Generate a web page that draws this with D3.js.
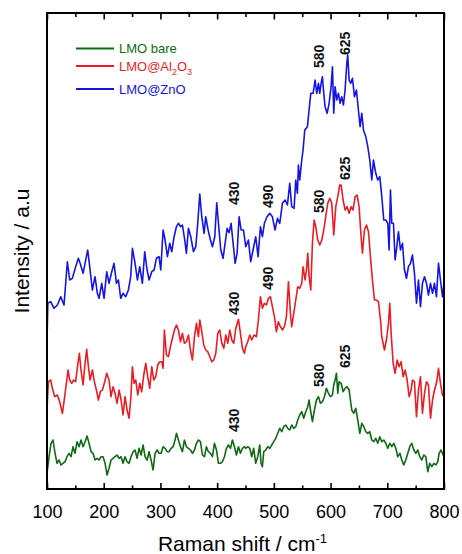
<!DOCTYPE html>
<html>
<head>
<meta charset="utf-8">
<script src="https://cdn.jsdelivr.net/npm/d3@7/dist/d3.min.js"></script>
<style>
  html, body { margin: 0; padding: 0; background: #fff; }
  svg { display: block; font-family: Arial, "Liberation Sans", sans-serif; }
</style>
</head>
<body>
<svg id="chart" width="462" height="554"></svg>
<script>
// Raman spectra: [Raman shift (cm^-1), intensity (a.u., stacked with offsets)]
const lmoZnO = [
  [100,148],[101.5,186],[106.5,187.3],[112.4,180.7],[118.3,184],[124.2,192.3],[130,184],[135.9,227.3],
  [140,209],[144.7,210.7],[150.6,222.3],[155.3,230.7],[159.4,224],[163.6,215.7],[167.1,225.7],[171.8,239],
  [175.3,222.3],[180,199],[184.7,212.3],[188.8,195.7],[191.8,190.7],[196.5,205.7],[200.6,190.7],[205.3,217.3],
  [209.4,205.7],[213.5,215.7],[218.2,225.7],[222.4,205.7],[225.9,209],[230,190.7],[234.1,195.7],[238.8,192.3],
  [243.5,199],[247.6,212.3],[250.6,240.7],[255.3,225.7],[259.4,209],[263.5,222.3],[268.2,205.7],[272.3,237.3],
  [276.5,219],[280,209],[284.7,217.3],[288.8,219],[292.9,230.7],[297.6,232.3],[300.6,219],[304.7,259],
  [308.2,249],[312.3,232.3],[316.4,245.7],[320,237.3],[324.1,252.3],[328.2,262.3],[331.7,265.7],[335.8,262.3],
  [338.8,264],[342.9,249],[345.8,235.7],[349.4,260.7],[353.5,252.3],[358.2,237.3],[362.3,242.3],[365.8,265.7],
  [369.4,295],[372.9,272.3],[377,255.7],[379.9,272.3],[384.1,259],[388.2,249],[391.7,242.3],[395.8,252.3],
  [399.3,286.3],[402.3,265.7],[406.4,239],[410.5,230.7],[414,245.7],[417.6,260.7],[421.1,256.3],[424.6,265.7],
  [428.2,245.7],[431.7,225.7],[435.2,235.7],[438.7,272.3],[442.3,259],[446.4,259],[450.5,242.3],[455.1,249],
  [459.2,227.3],[463.3,239],[468,252.3],[472.2,232.3],[476.3,262.3],[479.8,252.3],[483.3,265.7],[488,272.3],
  [492.7,275.7],[497.4,272.3],[502.1,259],[506.3,270.7],[510.4,265.7],[515.1,285.7],[519.8,289],[523.9,284],
  [528,305.7],[531.5,282.3],[535.7,280.7],[538.6,309],[541.5,295.7],[543.3,324],[545.7,309],[549.2,329],
  [551.5,339],[554.5,359],[559.2,362.3],[562.1,379],[565.1,395.7],[569.2,395.7],[572.7,409],[575.6,395.7],
  [578.6,405.7],[580.9,395.7],[583.3,405.7],[585.6,412.3],[588,395.7],[590.3,382.3],[593.9,375.7],[597.4,385.7],
  [600.9,402.3],[603.3,422.3],[605.6,375.7],[608,402.3],[610.9,389],[613.9,395.7],[616.8,385.7],[619.7,392.3],
  [622.7,384],[625.6,399],[628.6,425.7],[630.3,434],[632.7,409],[635.6,405.7],[638.6,410.7],[642.1,392.3],
  [645.6,399],[649.1,379],[652.1,362.3],[655,375.7],[658,359],[662.1,352.3],[665.6,342.3],[669.1,329],
  [672.7,309],[675.6,329],[679.7,315.7],[683.2,309],[686.8,312.3],[690.3,292.3],[693.8,269],[697.4,269],
  [700.9,265.7],[703.2,239],[705.6,299],[707.9,265.7],[710.9,265.7],[713.8,229],[716.8,242.3],[719.7,257.3],
  [723.2,239],[726.8,245.7],[730.3,219],[733.8,210.7],[737.3,222.3],[740.9,225.7],[744.4,234],[747.9,215.7],
  [751.5,185.7],[755,209],[758.5,182.3],[762,205.7],[765.6,212.3],[769.1,205.7],[772.6,194],[776.2,205.7],
  [779.7,195.7],[783.2,205.7],[786.7,192.3],[790.3,225.7],[793.8,209],[797.3,192.3],[800,205.7]
];

const lmoAl2O3 = [
  [100,79],[102.4,107.3],[106.5,109],[109.5,100.7],[113.6,92.3],[118.3,94],[122.4,87.3],[127.1,75.7],
  [131.2,92.3],[134.2,105.7],[137.1,119],[140,109],[143.6,105.7],[147.1,109],[150.6,107.3],[154.1,124],
  [157.1,135.7],[160,119],[163.6,104],[167.1,125.7],[170,139.7],[173,122.3],[175.9,109],[180,119],
  [183.5,107.3],[187.1,99],[190.6,89],[194.1,97.3],[197.7,99],[201.8,107.3],[205.3,115.7],[209.4,109],
  [212.9,92.3],[216.5,102.3],[220,95.7],[223.5,85.7],[227.1,99],[230.6,89],[234.1,74],[237.6,92.3],
  [241.2,79],[244.7,70.7],[247.6,89],[250.6,122.3],[253.5,105.7],[256.5,109],[260,94],[263.5,105.7],
  [267,97.3],[270.6,114],[274.1,125.7],[277.6,112.3],[281.2,100.7],[284.7,122.3],[288.2,109],[291.7,112.3],
  [295.3,124],[298.8,127.3],[302.3,127.3],[304.7,120.7],[307,159],[310.6,134],[314.1,132.3],[317.6,142.3],
  [321.1,150.7],[324.7,159],[328.2,164],[331.7,159],[335.3,147.3],[338.8,155.7],[342.3,145.7],[345.8,147.3],
  [349.4,154],[352.9,139],[356.4,129],[360,152.3],[363.5,165.7],[367,152.3],[369.4,169],[372.9,157.3],
  [376.4,144],[379.9,139],[383.5,137.3],[387,132.3],[390.5,127.3],[394.1,129],[397.6,135.7],[401.1,155.7],
  [404.6,159],[408.2,145.7],[411.7,140.7],[415.2,154],[418.7,145.7],[422.3,159],[425.8,149],[429.3,145.7],
  [432.9,160.7],[437.6,169.7],[441.1,155.7],[444.6,140.7],[448.1,135.7],[450.4,142.3],[453.9,147.3],[457.5,154],
  [461,149],[465.1,154],[469.2,152.3],[472.7,169],[476.3,192.3],[479.8,180.7],[483.3,185.7],[486.9,184],
  [490.4,190.7],[493.9,192.3],[497.4,182.3],[501,172.3],[504.5,157.3],[508,167.3],[511.6,162.3],[515.1,159],
  [518.6,162.3],[522.1,172.3],[525.7,207.3],[529.2,175.7],[531.5,162.3],[535.1,175.7],[538.6,189],[542.1,202.3],
  [545.7,200.7],[549.2,205.7],[551.5,222.3],[555.1,209],[557.4,219],[559.8,235.7],[562.1,212.3],[565.1,199],
  [568,245.7],[571,269],[573.9,262.3],[577.4,249],[581,244],[584.5,249],[588,259],[591.5,272.3],
  [595,285.7],[598.6,290.7],[602.1,285.7],[605.6,254],[609.2,282.3],[612.7,292.3],[616.2,304],[618.6,304],
  [622.1,289],[625.6,279],[629.2,282.3],[632.7,275.7],[636.2,282.3],[639.7,279],[643.3,292.3],[646.8,294],
  [650.3,282.3],[653.8,252.3],[656.2,235.7],[659.7,259],[663.3,264],[666.8,257.3],[670.3,232.3],[673.8,209],
  [677.4,189],[680.9,189],[684.4,187.3],[688,169],[690.3,152.3],[695,139],[698.5,149],[702.1,165.7],
  [704.4,185.7],[706.8,155.7],[710.3,125.7],[713.8,115.7],[717.4,129],[720.9,122.3],[724.4,127.3],[727.9,112.3],
  [731.5,119],[735,109],[738.5,92.3],[742,99],[744.4,109],[747.9,107.3],[751.5,72.3],[755,99],
  [758.5,112.3],[762,75.7],[765.6,95.7],[769.1,107.3],[772.6,104],[776.2,70.7],[779.7,89],[783.2,99],
  [786.7,105.7],[790.3,120.7],[793.8,105.7],[797.3,94],[800,92.3]
];

const lmoBare = [
  [100,15.7],[103.6,32.3],[107.1,45.7],[110.6,49],[114.2,35.7],[117.7,25.7],[121.2,29],[124.7,24],
  [128.3,25.7],[131.8,27.3],[135.3,32.3],[138.9,35.7],[142.4,32.3],[145.9,42.3],[149.4,35.7],[153,47.3],
  [156.5,42.3],[160,49],[163.6,42.3],[167.1,47.3],[170.6,53],[174.1,45.7],[177.7,37.3],[181.2,35.7],
  [184.7,29],[188.3,30.7],[191.8,29],[195.3,32.3],[198.8,32.3],[202.4,25.7],[205.9,14],[209.4,20.7],
  [212.9,29],[216.5,30.7],[220,32.3],[223.5,34],[227.1,30.7],[230.6,32.3],[234.1,25.7],[237.6,32.3],
  [241.2,27.3],[244.7,25.7],[248.2,32.3],[251.8,37.3],[255.3,39],[258.8,30.7],[262.3,40.7],[265.9,34],
  [269.4,44],[272.9,32.3],[276.5,29],[280,37.3],[283.5,29],[287,19],[290.6,35.7],[294.1,39],
  [297.6,35.7],[301.2,35.7],[304.7,42.3],[308.2,40.7],[311.7,37.3],[315.3,37.3],[318.8,40.7],[322.3,42.3],
  [325.8,49],[328.2,55.7],[331.7,49],[335.3,42.3],[338.8,37.3],[342.3,49],[345.8,42.3],[349.4,40.7],
  [352.9,39],[356.4,35.7],[360,39],[363.5,45.7],[367,49],[370.5,47.3],[374.1,34],[377.6,32.3],
  [381.1,42.3],[384.6,37.3],[388.2,35.7],[391.7,32.3],[395.2,45.7],[398.8,39],[402.3,25.7],[405.8,25.7],
  [409.3,27.3],[412.9,32.3],[416.4,40.7],[419.9,44],[423.5,40.7],[427,49],[430.5,42.3],[434,34],
  [437.6,42.3],[441.1,35.7],[444.6,40.7],[448.1,42.3],[450.4,40.7],[453.9,42.3],[457.5,40.7],[461,32.3],
  [464.5,40.7],[468,25.7],[471.6,32.3],[475.1,44],[477.4,25.7],[479.8,22.3],[482.2,37.3],[485.7,39],
  [489.2,42.3],[492.7,40.7],[496.3,44],[499.8,47.3],[503.3,50.7],[506.9,55.7],[510.4,60.7],[513.9,57.3],
  [517.4,62.3],[521,64],[524.5,60.7],[528,59],[531.5,64],[535.1,60.7],[538.6,62.3],[542.1,69],
  [545.7,74],[549.2,77.3],[552.7,70.7],[556.2,77.3],[559.8,82.3],[562.1,89],[564.5,79],[568,67.3],
  [571.5,79],[575.1,89],[578.6,92.3],[582.1,85.7],[585.6,87.3],[589.2,92.3],[592.7,100.7],[596.2,95.7],
  [599.8,92.3],[603.3,94],[605.6,104],[608,109],[610.3,115.7],[612.7,95.7],[615,107.3],[618.6,105.7],
  [622.1,97.3],[625.6,100.7],[629.2,102.3],[632.7,99],[635,89],[637.4,79],[640.9,75.7],[644.4,80.7],
  [648,69],[651.5,55.7],[655,65.7],[658.6,62.3],[662.1,57.3],[665.6,55.7],[669.1,57.3],[672.7,49],
  [676.2,47.3],[679.7,50.7],[683.2,45.7],[686.8,52.3],[690.3,47.3],[693.8,49],[697.4,45.7],[700.9,40.7],
  [704.4,45.7],[708,42.3],[711.5,45.7],[715,40.7],[718.5,32.3],[722.1,35.7],[725.6,29],[729.1,24],
  [732.6,29],[736.2,35.7],[739.7,42.3],[743.2,45.7],[746.8,39],[750.3,35.7],[753.8,39],[757.3,32.3],
  [760.9,29],[764.4,34],[767.9,32.3],[771.4,17.3],[775,25.7],[778.5,22.3],[782,25.7],[785.6,24],
  [789.1,27.3],[791.4,35.7],[794.9,39],[798.4,34],[800,35.7]
];

// Peak annotations: [label, Raman shift, intensity at label start]
const peakLabelsZnO   = [["430",430,284],["490",490,281],["580",580,421],["625",625,434]];
const peakLabelsAl2O3 = [["430",430,174],["490",490,199],["580",580,276],["625",625,309]];
const peakLabelsBare  = [["430",430,57],["580",580,102],["625",625,121]];

const xTicks = [100,200,300,400,500,600,700,800];
const xMinorTicks = [150,250,350,450,550,650,750];

const seriesNames = ["LMO bare", "LMO@Al2O3", "LMO@ZnO"];
const seriesColors = ["#0f6a14", "#ec1c24", "#1414e6"];

const svg = d3.select("#chart");
const plot = { left: 47, right: 444, top: 13, bottom: 489 };

const x = d3.scaleLinear().domain([100, 800]).range([plot.left, plot.right]);
const y = d3.scaleLinear().domain([0, 476]).range([plot.bottom, plot.top]);

svg.append("defs").append("clipPath").attr("id", "plotClip")
  .append("rect")
  .attr("x", plot.left).attr("y", plot.top)
  .attr("width", plot.right - plot.left).attr("height", plot.bottom - plot.top);

// Spectra
const line = d3.line().x(d => x(d[0])).y(d => y(d[1]));
const spectra = [lmoBare, lmoAl2O3, lmoZnO];
const lines = svg.append("g").attr("clip-path", "url(#plotClip)");
spectra.forEach((data, i) => {
  lines.append("path")
    .datum(data)
    .attr("d", line)
    .attr("fill", "none")
    .attr("stroke", seriesColors[i])
    .attr("stroke-width", 1.6)
    .attr("stroke-linejoin", "round");
});

// Peak position labels (rotated)
const annot = svg.append("g")
  .attr("font-size", 14)
  .attr("font-weight", "bold")
  .attr("fill", "#111");
[peakLabelsBare, peakLabelsAl2O3, peakLabelsZnO].forEach(set => {
  set.forEach(([txt, wn, inten]) => {
    annot.append("text")
      .attr("transform", `translate(${x(wn)},${y(inten)}) rotate(-90)`)
      .attr("dy", "0.36em")
      .text(txt);
  });
});

// Frame
svg.append("rect")
  .attr("x", plot.left).attr("y", plot.top)
  .attr("width", plot.right - plot.left).attr("height", plot.bottom - plot.top)
  .attr("fill", "none").attr("stroke", "#000").attr("stroke-width", 2);

// Bottom axis with inward ticks
const bottomAxis = svg.append("g")
  .attr("transform", `translate(0,${plot.bottom})`)
  .call(d3.axisBottom(x).tickValues(xTicks).tickSizeInner(-6).tickSizeOuter(0).tickPadding(16)
    .tickFormat(d3.format("d")));
bottomAxis.select(".domain").remove();
bottomAxis.selectAll(".tick line").attr("stroke-width", 1.6);
bottomAxis.selectAll(".tick text")
  .attr("font-size", 18)
  .attr("font-family", "Arial, 'Liberation Sans', sans-serif")
  .attr("fill", "#000");

const bottomMinor = svg.append("g")
  .attr("transform", `translate(0,${plot.bottom})`)
  .call(d3.axisBottom(x).tickValues(xMinorTicks).tickSizeInner(-3.5).tickSizeOuter(0).tickFormat(""));
bottomMinor.select(".domain").remove();
bottomMinor.selectAll(".tick line").attr("stroke-width", 1.6);

// Top axis mirrored ticks
const topAxis = svg.append("g")
  .attr("transform", `translate(0,${plot.top})`)
  .call(d3.axisTop(x).tickValues(xTicks).tickSizeInner(-6.5).tickSizeOuter(0).tickFormat(""));
topAxis.select(".domain").remove();
topAxis.selectAll(".tick line").attr("stroke-width", 1.6);
const topMinor = svg.append("g")
  .attr("transform", `translate(0,${plot.top})`)
  .call(d3.axisTop(x).tickValues(xMinorTicks).tickSizeInner(-4).tickSizeOuter(0).tickFormat(""));
topMinor.select(".domain").remove();
topMinor.selectAll(".tick line").attr("stroke-width", 1.6);

// Axis titles
const xTitle = svg.append("text")
  .attr("x", (plot.left + plot.right) / 2 - 3)
  .attr("y", 551)
  .attr("text-anchor", "middle")
  .attr("font-size", 21)
  .attr("fill", "#000");
xTitle.append("tspan").text("Raman shift / cm");
xTitle.append("tspan").attr("dy", -8).attr("font-size", 13).text("-1");

svg.append("text")
  .attr("transform", `translate(29,${(plot.top + plot.bottom) / 2}) rotate(-90)`)
  .attr("text-anchor", "middle")
  .attr("font-size", 21)
  .attr("fill", "#000")
  .text("Intensity / a.u");

// Legend
const legend = svg.append("g").attr("font-size", 13);
const legendRows = [48.5, 66, 89];
seriesNames.forEach((name, i) => {
  const yy = legendRows[i];
  legend.append("line")
    .attr("x1", 76).attr("x2", 114).attr("y1", yy).attr("y2", yy)
    .attr("stroke", seriesColors[i]).attr("stroke-width", 1.8);
  const t = legend.append("text")
    .attr("x", 119).attr("y", yy + 4.5)
    .attr("fill", seriesColors[i]);
  if (name === "LMO@Al2O3") {
    t.append("tspan").text("LMO@Al");
    t.append("tspan").attr("font-size", 9).attr("dy", 4).text("2");
    t.append("tspan").attr("dy", -4).text("O");
    t.append("tspan").attr("font-size", 9).attr("dy", 4).text("3");
  } else {
    t.text(name);
  }
});
</script>
</body>
</html>
